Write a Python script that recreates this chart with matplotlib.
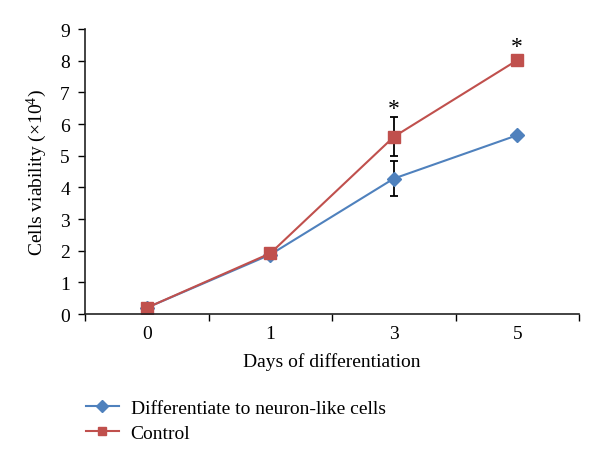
import matplotlib
matplotlib.use('Agg')
import matplotlib.pyplot as plt
from matplotlib.lines import Line2D
import numpy as np

days = ['0', '1', '3', '5']
neuron = [0.2, 1.88, 4.28, 5.65]
neuron_err = [0, 0, 0.55, 0]
control = [0.2, 1.92, 5.6, 8.02]
control_err = [0, 0, 0.62, 0]
stars = [2, 3]

blue = '#4F81BD'
red = '#C0504D'

plt.rc('font', family='Liberation Serif')
plt.rc('mathtext', fontset='custom', rm='Liberation Serif')

fig = plt.figure(figsize=(6, 4.64), dpi=100)
ax = fig.add_axes([0.142, 0.321, 0.823, 0.614])
xs = np.arange(len(days))

ax.errorbar(xs, neuron, yerr=neuron_err, color=blue, lw=1.5, marker='D',
            markersize=7.5, mec=blue, ecolor='k', elinewidth=1.3, capsize=3,
            capthick=1.3)
ax.errorbar(xs, control, yerr=control_err, color=red, lw=1.5, marker='s',
            markersize=9, mec=red, ecolor='k', elinewidth=1.3, capsize=3,
            capthick=1.3)
for i in stars:
    off = 6 if control_err[i] else 9.5
    ax.annotate('*', (xs[i], control[i] + control_err[i]), xytext=(0, off),
                textcoords='offset points', ha='center', va='center',
                fontsize=17)

ax.set_xlim(-0.5, 3.5)
ax.set_ylim(0, 9)
ax.set_yticks(np.arange(0, 10))
ax.set_xticks(np.arange(-0.5, 4, 1))
ax.set_xticklabels([])
ax.set_xticks(xs, minor=True)
ax.set_xticklabels(days, minor=True)
ax.tick_params(axis='x', which='minor', length=0, labelsize=14, pad=8)
ax.tick_params(axis='x', which='major', length=5, width=1, direction='out')
ax.tick_params(axis='y', labelsize=14, length=5, width=1, direction='out', pad=6)
for s in ['top', 'right']:
    ax.spines[s].set_visible(False)
for s in ['left', 'bottom']:
    ax.spines[s].set_linewidth(1.2)
    ax.spines[s].set_color('#222222')

ax.set_ylabel('Cells viability ($\\mathregular{\\times 10^4}$)', fontsize=14,
              labelpad=8)
ax.set_xlabel('Days of differentiation', fontsize=14, labelpad=7)

h = [Line2D([], [], color=blue, lw=1.5, marker='D', markersize=6),
     Line2D([], [], color=red, lw=1.5, marker='s', markersize=6)]
l = ['Differentiate to neuron-like cells', 'Control']
fig.legend(h, l, loc='upper left', bbox_to_anchor=(0.143, 0.138), frameon=False,
           fontsize=14, handlelength=1.7, handletextpad=0.6, labelspacing=0.4,
           borderaxespad=0, borderpad=0)

fig.savefig('out.png', dpi=100)
